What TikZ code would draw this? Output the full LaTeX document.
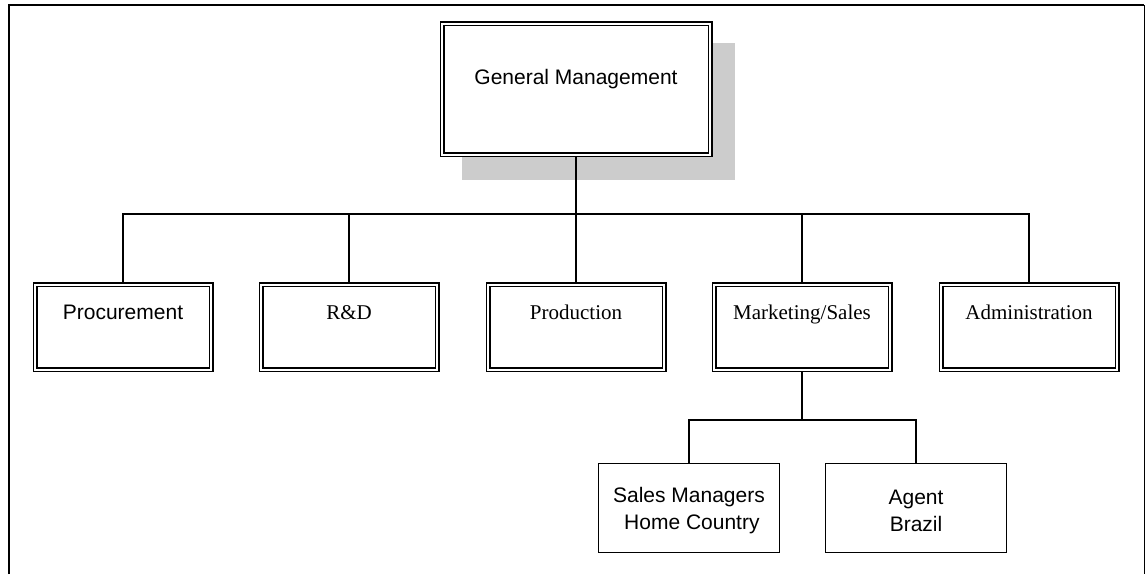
\documentclass[tikz,border=0pt]{standalone}
\usepackage{fontspec}
\setmainfont{Liberation Serif}
\newfontfamily\arialfont{Liberation Sans}
\usetikzlibrary{backgrounds}

\tikzset{
  unit/.style={draw, double, double distance=2pt, line width=1.5pt, fill=white,
               inner sep=0pt, minimum width=176pt, minimum height=85pt,
               text height=16pt, text depth=31pt},
  topunit/.style={unit, minimum width=268pt, minimum height=131pt,
                  text height=16pt, text depth=25pt},
  subunit/.style={draw, line width=1.5pt, fill=white, inner sep=0pt,
                  minimum width=181pt, minimum height=89pt, align=center},
  link/.style={line width=2pt},
  sans/.style={font=\arialfont\fontsize{21}{27}\selectfont},
  serif/.style={font=\fontsize{21}{27}\selectfont}
}

\begin{document}
\begin{tikzpicture}[x=1pt, y=-1pt]
  \useasboundingbox (0,0) rectangle (1146,574);

  % open frame around the chart
  \draw[line width=2pt] (9,574) -- (9,5) -- (1144,5);
  \draw[line width=1pt] (1144,5) -- (1144,574);

  % head of the organisation
  \node[topunit, sans] (gm) at (576,89) {General Management};

  % departments
  \node[unit, sans]  (proc)  at (123,327)  {Procurement};
  \node[unit, serif] (rd)    at (349,327)  {R\&D};
  \node[unit, serif] (prod)  at (576,327)  {Production};
  \node[unit, serif] (mkt)   at (802,327)  {Marketing/Sales};
  \node[unit, serif] (admin) at (1029,327) {Administration};

  % sales organisation
  \node[subunit, sans] (smhc)  at (689,508) {\rule{0pt}{20pt}Sales Managers\\\ Home Country};
  \node[subunit, sans] (agent) at (916,508) {\rule{0pt}{20pt}Agent\\Brazil};

  \coordinate (bus) at (0,214);
  \coordinate (subbus) at (0,420);

  \begin{scope}[on background layer]
    % drop shadow of the head box
    \fill[black!20] (462,43) rectangle (735,180);
    % reporting lines
    \draw[link] (gm.south) -- (gm.south |- bus);
    \draw[link] (proc.north) -- (proc.north |- bus) -| (admin.north);
    \draw[link] (rd.north) -- (rd.north |- bus);
    \draw[link] (prod.north) -- (prod.north |- bus);
    \draw[link] (mkt.north) -- (mkt.north |- bus);
    \draw[link] (mkt.south) -- (mkt.south |- subbus);
    \draw[link] (smhc.north) -- (smhc.north |- subbus) -| (agent.north);
  \end{scope}
\end{tikzpicture}
\end{document}
